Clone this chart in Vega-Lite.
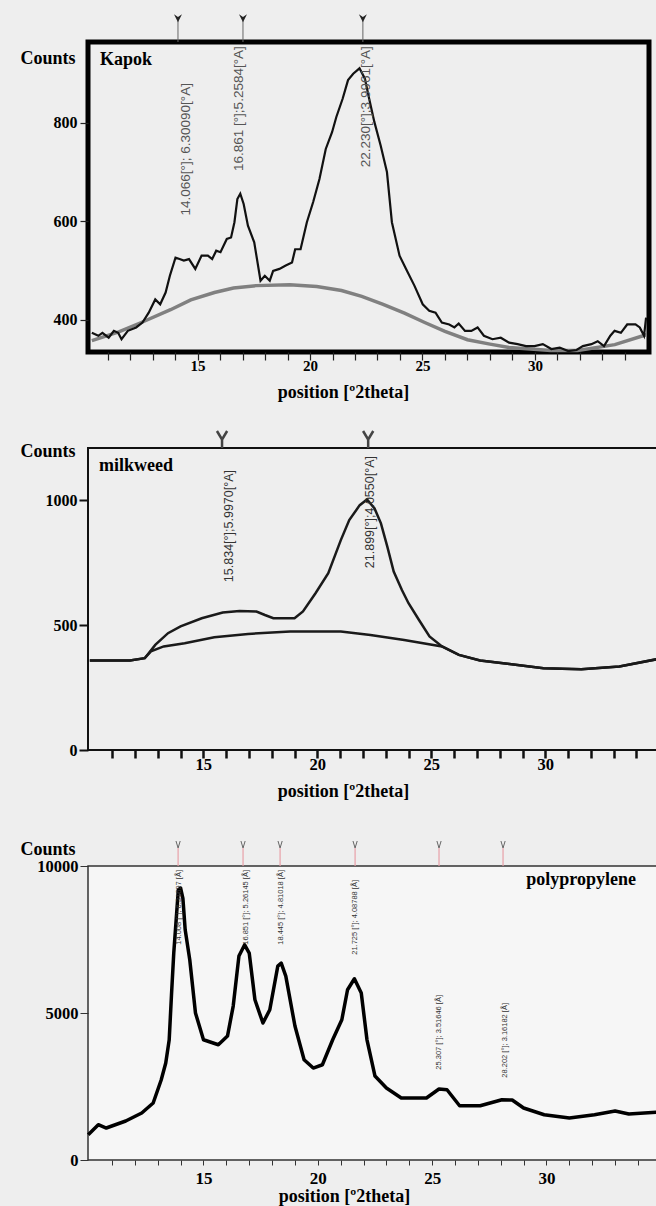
{
  "$schema": "https://vega.github.io/schema/vega-lite/v6.json",
  "background": "#eeeeee",
  "padding": {"left": 17, "top": 11, "right": 0, "bottom": 0},
  "spacing": 10,
  "bounds": "flush",
  "config": {
    "view": {"stroke": null},
    "axis": {
      "labelFont": "Liberation Serif", "labelFontWeight": "bold", "labelColor": "#000",
      "titleFont": "Liberation Serif", "titleFontWeight": "bold", "titleColor": "#000", "titleFontSize": 18,
      "grid": false, "domain": false, "labelOverlap": false, "labelFlush": false, "tickColor": "#222"
    }
  },
  "datasets": {
    "kapok": [
      {"x": 10.30, "y": 373}, {"x": 10.59, "y": 367}, {"x": 10.77, "y": 373}, {"x": 11.05, "y": 363}, {"x": 11.28, "y": 377},
      {"x": 11.47, "y": 373}, {"x": 11.62, "y": 360}, {"x": 11.90, "y": 377}, {"x": 12.27, "y": 384}, {"x": 12.55, "y": 394},
      {"x": 12.83, "y": 414}, {"x": 13.12, "y": 441}, {"x": 13.34, "y": 431}, {"x": 13.58, "y": 455}, {"x": 13.77, "y": 489},
      {"x": 14.02, "y": 526}, {"x": 14.20, "y": 523}, {"x": 14.39, "y": 520}, {"x": 14.62, "y": 523}, {"x": 14.90, "y": 503},
      {"x": 15.18, "y": 530}, {"x": 15.46, "y": 530}, {"x": 15.65, "y": 523}, {"x": 15.83, "y": 540}, {"x": 16.02, "y": 537},
      {"x": 16.30, "y": 564}, {"x": 16.49, "y": 567}, {"x": 16.64, "y": 598}, {"x": 16.77, "y": 645}, {"x": 16.90, "y": 656},
      {"x": 17.05, "y": 635}, {"x": 17.24, "y": 591}, {"x": 17.52, "y": 557}, {"x": 17.80, "y": 479}, {"x": 17.99, "y": 489},
      {"x": 18.21, "y": 479}, {"x": 18.36, "y": 499}, {"x": 18.64, "y": 503}, {"x": 18.92, "y": 510}, {"x": 19.20, "y": 516},
      {"x": 19.34, "y": 543}, {"x": 19.58, "y": 543}, {"x": 19.86, "y": 598}, {"x": 20.14, "y": 639}, {"x": 20.42, "y": 686},
      {"x": 20.70, "y": 747}, {"x": 20.98, "y": 781}, {"x": 21.17, "y": 812}, {"x": 21.45, "y": 849}, {"x": 21.69, "y": 887},
      {"x": 21.92, "y": 900}, {"x": 22.20, "y": 911}, {"x": 22.44, "y": 890}, {"x": 22.63, "y": 849}, {"x": 22.86, "y": 802},
      {"x": 23.14, "y": 754}, {"x": 23.42, "y": 700}, {"x": 23.64, "y": 598}, {"x": 23.98, "y": 530}, {"x": 24.27, "y": 503},
      {"x": 24.64, "y": 469}, {"x": 25.01, "y": 431}, {"x": 25.30, "y": 418}, {"x": 25.58, "y": 414}, {"x": 25.86, "y": 394},
      {"x": 26.19, "y": 390}, {"x": 26.42, "y": 384}, {"x": 26.61, "y": 392}, {"x": 26.89, "y": 377}, {"x": 27.17, "y": 377},
      {"x": 27.45, "y": 384}, {"x": 27.73, "y": 367}, {"x": 28.11, "y": 360}, {"x": 28.48, "y": 363}, {"x": 28.85, "y": 353},
      {"x": 29.23, "y": 350}, {"x": 29.60, "y": 346}, {"x": 29.98, "y": 346}, {"x": 30.35, "y": 350}, {"x": 30.73, "y": 340},
      {"x": 31.10, "y": 343}, {"x": 31.48, "y": 336}, {"x": 31.85, "y": 338}, {"x": 32.13, "y": 346}, {"x": 32.51, "y": 350},
      {"x": 32.79, "y": 356}, {"x": 33.07, "y": 346}, {"x": 33.35, "y": 367}, {"x": 33.54, "y": 377}, {"x": 33.82, "y": 373},
      {"x": 34.10, "y": 390}, {"x": 34.47, "y": 390}, {"x": 34.66, "y": 384}, {"x": 34.85, "y": 367}, {"x": 34.94, "y": 404}
    ],
    "kapok_bg": [
      {"x": 10.30, "y": 357}, {"x": 11.5, "y": 375}, {"x": 12.5, "y": 394}, {"x": 13.8, "y": 420}, {"x": 14.7, "y": 440},
      {"x": 15.75, "y": 455}, {"x": 16.6, "y": 464}, {"x": 17.6, "y": 469}, {"x": 19.1, "y": 471}, {"x": 20.3, "y": 467},
      {"x": 21.4, "y": 459}, {"x": 22.3, "y": 447}, {"x": 23.25, "y": 431}, {"x": 24.2, "y": 413}, {"x": 25.1, "y": 394},
      {"x": 26.0, "y": 376}, {"x": 27.0, "y": 359}, {"x": 28.0, "y": 350}, {"x": 28.85, "y": 343}, {"x": 29.8, "y": 340},
      {"x": 30.7, "y": 337}, {"x": 31.9, "y": 337}, {"x": 33.55, "y": 349}, {"x": 34.95, "y": 369}
    ],
    "kapok_peaks": [
      {"pos": 14.13, "lx": 14.49, "ly": 881, "label": "14.066[°]; 6.30090[°A]"},
      {"pos": 17.02, "lx": 16.84, "ly": 956, "label": "16.861 [°];5.2584[°A]"},
      {"pos": 22.35, "lx": 22.49, "ly": 956, "label": "22.230[°];3.9961[°A]"}
    ],
    "milk": [
      {"x": 10.02, "y": 359}, {"x": 11.78, "y": 359}, {"x": 12.43, "y": 368}, {"x": 12.89, "y": 421}, {"x": 13.45, "y": 468},
      {"x": 14.00, "y": 495}, {"x": 14.93, "y": 528}, {"x": 15.85, "y": 551}, {"x": 16.59, "y": 557}, {"x": 17.33, "y": 555},
      {"x": 17.70, "y": 541}, {"x": 18.07, "y": 528}, {"x": 19.00, "y": 528}, {"x": 19.37, "y": 555}, {"x": 19.92, "y": 628},
      {"x": 20.48, "y": 708}, {"x": 21.03, "y": 841}, {"x": 21.40, "y": 921}, {"x": 21.86, "y": 981}, {"x": 22.18, "y": 1004},
      {"x": 22.51, "y": 968}, {"x": 22.79, "y": 908}, {"x": 23.07, "y": 815}, {"x": 23.35, "y": 715}, {"x": 23.71, "y": 641},
      {"x": 24.00, "y": 588}, {"x": 24.46, "y": 521}, {"x": 24.92, "y": 455}, {"x": 25.47, "y": 415}, {"x": 26.21, "y": 381},
      {"x": 27.14, "y": 359}, {"x": 28.43, "y": 345}, {"x": 29.92, "y": 328}, {"x": 31.58, "y": 324}, {"x": 33.25, "y": 335},
      {"x": 34.91, "y": 364}
    ],
    "milk_bg": [
      {"x": 10.02, "y": 359}, {"x": 11.78, "y": 359}, {"x": 12.43, "y": 368}, {"x": 12.70, "y": 395}, {"x": 13.26, "y": 415},
      {"x": 14.18, "y": 428}, {"x": 15.48, "y": 452}, {"x": 16.96, "y": 465}, {"x": 18.81, "y": 475}, {"x": 21.03, "y": 475},
      {"x": 22.33, "y": 461}, {"x": 23.81, "y": 441}, {"x": 25.47, "y": 415}, {"x": 26.21, "y": 381}, {"x": 27.14, "y": 359},
      {"x": 28.43, "y": 345}, {"x": 29.92, "y": 328}, {"x": 31.58, "y": 324}, {"x": 33.25, "y": 335}, {"x": 34.91, "y": 364}
    ],
    "milk_peaks": [
      {"pos": 15.82, "lx": 16.13, "ly": 1122, "label": "15.834[°];5.9970[°A]"},
      {"pos": 22.23, "lx": 22.31, "ly": 1178, "label": "21.899[°];4.0550[°A]"}
    ],
    "pp": [
      {"x": 9.96, "y": 860}, {"x": 10.4, "y": 1200}, {"x": 10.75, "y": 1088}, {"x": 11.6, "y": 1326}, {"x": 12.3, "y": 1598},
      {"x": 12.8, "y": 1938}, {"x": 13.15, "y": 2720}, {"x": 13.35, "y": 3300}, {"x": 13.5, "y": 4080}, {"x": 13.6, "y": 5600},
      {"x": 13.7, "y": 7038}, {"x": 13.9, "y": 9190}, {"x": 14.0, "y": 9248}, {"x": 14.1, "y": 8900}, {"x": 14.2, "y": 7830},
      {"x": 14.4, "y": 6810}, {"x": 14.65, "y": 5000}, {"x": 15.0, "y": 4090}, {"x": 15.65, "y": 3920}, {"x": 16.05, "y": 4216},
      {"x": 16.3, "y": 5236}, {"x": 16.55, "y": 6936}, {"x": 16.8, "y": 7320}, {"x": 17.0, "y": 7038}, {"x": 17.25, "y": 5450},
      {"x": 17.6, "y": 4658}, {"x": 17.9, "y": 5110}, {"x": 18.25, "y": 6596}, {"x": 18.4, "y": 6698}, {"x": 18.6, "y": 6256},
      {"x": 19.0, "y": 4556}, {"x": 19.4, "y": 3410}, {"x": 19.8, "y": 3128}, {"x": 20.2, "y": 3240}, {"x": 20.65, "y": 4090},
      {"x": 21.05, "y": 4770}, {"x": 21.3, "y": 5790}, {"x": 21.6, "y": 6164}, {"x": 21.9, "y": 5678}, {"x": 22.15, "y": 4090},
      {"x": 22.5, "y": 2856}, {"x": 23.0, "y": 2448}, {"x": 23.65, "y": 2108}, {"x": 24.75, "y": 2108}, {"x": 25.3, "y": 2414},
      {"x": 25.65, "y": 2390}, {"x": 26.2, "y": 1846}, {"x": 27.1, "y": 1846}, {"x": 28.05, "y": 2050}, {"x": 28.5, "y": 2040},
      {"x": 29.0, "y": 1768}, {"x": 29.9, "y": 1540}, {"x": 31.0, "y": 1428}, {"x": 32.1, "y": 1540}, {"x": 33.0, "y": 1666},
      {"x": 33.6, "y": 1564}, {"x": 34.92, "y": 1632}
    ],
    "pp_peaks": [
      {"pos": 13.89, "lx": 13.93, "ly": 9864, "label": "14.008 [°]; 6.31697 [Å]"},
      {"pos": 16.73, "lx": 16.86, "ly": 9864, "label": "16.851 [°]; 5.26145 [Å]"},
      {"pos": 18.35, "lx": 18.39, "ly": 9864, "label": "18.445 [°]; 4.81018 [Å]"},
      {"pos": 21.63, "lx": 21.62, "ly": 9524, "label": "21.725 [°]; 4.08788 [Å]"},
      {"pos": 25.30, "lx": 25.30, "ly": 5613, "label": "25.307 [°]; 3.51646 [Å]"},
      {"pos": 28.10, "lx": 28.18, "ly": 5341, "label": "28.202 [°]; 3.16182 [Å]"}
    ],
    "names": [
      {"panel": "kapok", "x": 10.66, "y": 928, "name": "Kapok"},
      {"panel": "milk", "x": 10.42, "y": 1138, "name": "milkweed"},
      {"panel": "pp", "x": 33.91, "y": 9524, "name": "polypropylene"}
    ],
    "blank": [{"t": ""}]
  },
  "vconcat": [
    {
      "width": 561, "height": 310,
      "view": {"stroke": "#000", "strokeWidth": 5},
      "resolve": {"axis": {"x": "independent"}},
      "layer": [
        {
          "data": {"name": "kapok_bg"},
          "mark": {"type": "line", "color": "#808080", "strokeWidth": 3.5},
          "encoding": {
            "x": {"field": "x", "type": "quantitative", "scale": {"domain": [10.13, 35.07], "nice": false, "zero": false},
              "axis": {"orient": "bottom", "title": "position [º2theta]", "values": [15, 20, 25, 30], "tickSize": 8, "tickWidth": 1.2,
                "labelFontSize": 15, "labelBaseline": "middle", "labelPadding": 5.5,
                "titleX": 255, "titleY": 40.5, "titleAlign": "center", "titleBaseline": "middle"}},
            "y": {"field": "y", "type": "quantitative", "scale": {"domain": [334, 964.5], "nice": false, "zero": false},
              "axis": {"title": "Counts", "values": [400, 600, 800], "format": "d", "tickSize": 8, "tickWidth": 1.2,
                "labelFontSize": 16, "labelPadding": 3,
                "titleAngle": 0, "titleAlign": "left", "titleBaseline": "middle", "titleX": -68, "titleY": 16}}
          }
        },
        {
          "data": {"name": "kapok"},
          "mark": {"type": "line", "color": "#111", "strokeWidth": 2.2},
          "encoding": {
            "x": {"field": "x", "type": "quantitative",
              "axis": {"orient": "bottom", "title": null, "labels": false, "values": [11,12,13,14,16,17,18,19,21,22,23,24,26,27,28,29,31,32,33,34], "tickSize": 8, "tickWidth": 1.2}},
            "y": {"field": "y", "type": "quantitative"}
          }
        },
        {
          "data": {"name": "kapok_peaks"},
          "mark": {"type": "rule", "color": "#666", "strokeWidth": 1},
          "encoding": {"x": {"field": "pos", "type": "quantitative", "axis": null}, "y": {"datum": 964.5}, "y2": {"datum": 1008}}
        },
        {
          "data": {"name": "kapok_peaks"},
          "mark": {"type": "point", "shape": "M-1,-1L0,1L1,-1L0,-0.3Z", "filled": true, "color": "#222", "size": 64, "opacity": 1},
          "encoding": {"x": {"field": "pos", "type": "quantitative", "axis": null}, "y": {"datum": 1013}}
        },
        {
          "data": {"name": "kapok_peaks"},
          "mark": {"type": "text", "angle": 270, "align": "right", "baseline": "middle", "font": "Liberation Sans", "fontSize": 13.5, "color": "#555"},
          "encoding": {"x": {"field": "lx", "type": "quantitative", "axis": null}, "y": {"field": "ly", "type": "quantitative"}, "text": {"field": "label"}}
        },
        {
          "data": {"name": "names"},
          "transform": [{"filter": "datum.panel === 'kapok'"}],
          "mark": {"type": "text", "align": "left", "baseline": "middle", "font": "Liberation Serif", "fontWeight": "bold", "fontSize": 18, "color": "#000"},
          "encoding": {"x": {"field": "x", "type": "quantitative", "axis": null}, "y": {"field": "y", "type": "quantitative"}, "text": {"field": "name"}}
        }
      ]
    },
    {
      "width": 10, "height": 76,
      "data": {"name": "blank"},
      "mark": "text",
      "encoding": {"text": {"field": "t"}}
    },
    {
      "width": 569, "height": 302,
      "view": {"stroke": "#111", "strokeWidth": 2},
      "resolve": {"axis": {"x": "independent"}},
      "layer": [
        {
          "data": {"name": "milk_bg"},
          "mark": {"type": "line", "color": "#1a1a1a", "strokeWidth": 2.5},
          "encoding": {
            "x": {"field": "x", "type": "quantitative", "scale": {"domain": [9.94, 34.9], "nice": false, "zero": false},
              "axis": {"orient": "bottom", "title": "position [º2theta]", "values": [15, 20, 25, 30], "tickSize": 8, "tickWidth": 2.5, "tickColor": "#111",
                "labelFontSize": 16.5, "labelBaseline": "middle", "labelPadding": 6.7,
                "titleX": 255, "titleY": 41, "titleAlign": "center", "titleBaseline": "middle"}},
            "y": {"field": "y", "type": "quantitative", "scale": {"domain": [0, 1210], "nice": false, "zero": false},
              "axis": {"title": "Counts", "values": [0, 500, 1000], "format": "d", "tickSize": 9, "tickWidth": 2, "tickColor": "#111",
                "labelFontSize": 16, "labelPadding": 2,
                "titleAngle": 0, "titleAlign": "left", "titleBaseline": "middle", "titleX": -68, "titleY": 3}}
          }
        },
        {
          "data": {"name": "milk"},
          "mark": {"type": "line", "color": "#1a1a1a", "strokeWidth": 2.5},
          "encoding": {
            "x": {"field": "x", "type": "quantitative",
              "axis": {"orient": "bottom", "title": null, "labels": false, "values": [11,12,13,14,16,17,18,19,21,22,23,24,26,27,28,29,31,32,33,34], "tickSize": 8, "tickWidth": 2.5, "tickColor": "#111"}},
            "y": {"field": "y", "type": "quantitative"}
          }
        },
        {
          "data": {"name": "milk_peaks"},
          "mark": {"type": "point", "shape": "M-0.6,-1L0,0L0.6,-1M0,0L0,1", "filled": false, "color": "#444", "strokeWidth": 2.5, "size": 289, "opacity": 1},
          "encoding": {"x": {"field": "pos", "type": "quantitative", "axis": null}, "y": {"datum": 1244}}
        },
        {
          "data": {"name": "milk_peaks"},
          "mark": {"type": "text", "angle": 270, "align": "right", "baseline": "middle", "font": "Liberation Sans", "fontSize": 12.5, "color": "#333"},
          "encoding": {"x": {"field": "lx", "type": "quantitative", "axis": null}, "y": {"field": "ly", "type": "quantitative"}, "text": {"field": "label"}}
        },
        {
          "data": {"name": "names"},
          "transform": [{"filter": "datum.panel === 'milk'"}],
          "mark": {"type": "text", "align": "left", "baseline": "middle", "font": "Liberation Serif", "fontWeight": "bold", "fontSize": 18, "color": "#000"},
          "encoding": {"x": {"field": "x", "type": "quantitative", "axis": null}, "y": {"field": "y", "type": "quantitative"}, "text": {"field": "name"}}
        }
      ]
    },
    {
      "width": 10, "height": 96,
      "data": {"name": "blank"},
      "mark": "text",
      "encoding": {"text": {"field": "t"}}
    },
    {
      "width": 571, "height": 294,
      "view": {"stroke": "#333", "strokeWidth": 1.5, "fill": "#f6f6f6"},
      "resolve": {"axis": {"x": "independent"}},
      "layer": [
        {
          "data": {"name": "pp"},
          "mark": {"type": "line", "color": "#000", "strokeWidth": 3.5, "strokeJoin": "round"},
          "encoding": {
            "x": {"field": "x", "type": "quantitative", "scale": {"domain": [9.95, 34.92], "nice": false, "zero": false},
              "axis": {"orient": "bottom", "title": "position [º2theta]", "values": [15, 20, 25, 30], "tickSize": 5, "tickWidth": 1, "tickColor": "#333",
                "labelFontSize": 17, "labelBaseline": "middle", "labelPadding": 13,
                "titleX": 256, "titleY": 36, "titleAlign": "center", "titleBaseline": "middle"}},
            "y": {"field": "y", "type": "quantitative", "scale": {"domain": [0, 10000], "nice": false, "zero": false},
              "axis": {"title": "Counts", "values": [0, 5000, 10000], "format": "d", "tickSize": 8, "tickWidth": 1, "tickColor": "#333",
                "labelFontSize": 16.5, "labelPadding": 2,
                "titleAngle": 0, "titleAlign": "left", "titleBaseline": "middle", "titleX": -68, "titleY": -17}}
          }
        },
        {
          "data": {"name": "pp_peaks"},
          "mark": {"type": "rule", "color": "#e8a0a8", "strokeWidth": 1.2},
          "encoding": {
            "x": {"field": "pos", "type": "quantitative",
              "axis": {"orient": "bottom", "title": null, "labels": false, "values": [11,12,13,14,16,17,18,19,21,22,23,24,26,27,28,29,31,32,33,34], "tickSize": 5, "tickWidth": 1, "tickColor": "#333"}},
            "y": {"datum": 10000}, "y2": {"datum": 10612}
          }
        },
        {
          "data": {"name": "pp_peaks"},
          "mark": {"type": "point", "shape": "M-0.6,-1L0,1L0.6,-1", "filled": false, "color": "#666", "strokeWidth": 1, "size": 49, "opacity": 1},
          "encoding": {"x": {"field": "pos", "type": "quantitative", "axis": null}, "y": {"datum": 10731}}
        },
        {
          "data": {"name": "pp_peaks"},
          "mark": {"type": "text", "angle": 270, "align": "right", "baseline": "middle", "font": "Liberation Sans", "fontSize": 7.5, "color": "#333"},
          "encoding": {"x": {"field": "lx", "type": "quantitative", "axis": null}, "y": {"field": "ly", "type": "quantitative"}, "text": {"field": "label"}}
        },
        {
          "data": {"name": "names"},
          "transform": [{"filter": "datum.panel === 'pp'"}],
          "mark": {"type": "text", "align": "right", "baseline": "middle", "font": "Liberation Serif", "fontWeight": "bold", "fontSize": 18, "color": "#000"},
          "encoding": {"x": {"field": "x", "type": "quantitative", "axis": null}, "y": {"field": "y", "type": "quantitative"}, "text": {"field": "name"}}
        }
      ]
    }
  ]
}
